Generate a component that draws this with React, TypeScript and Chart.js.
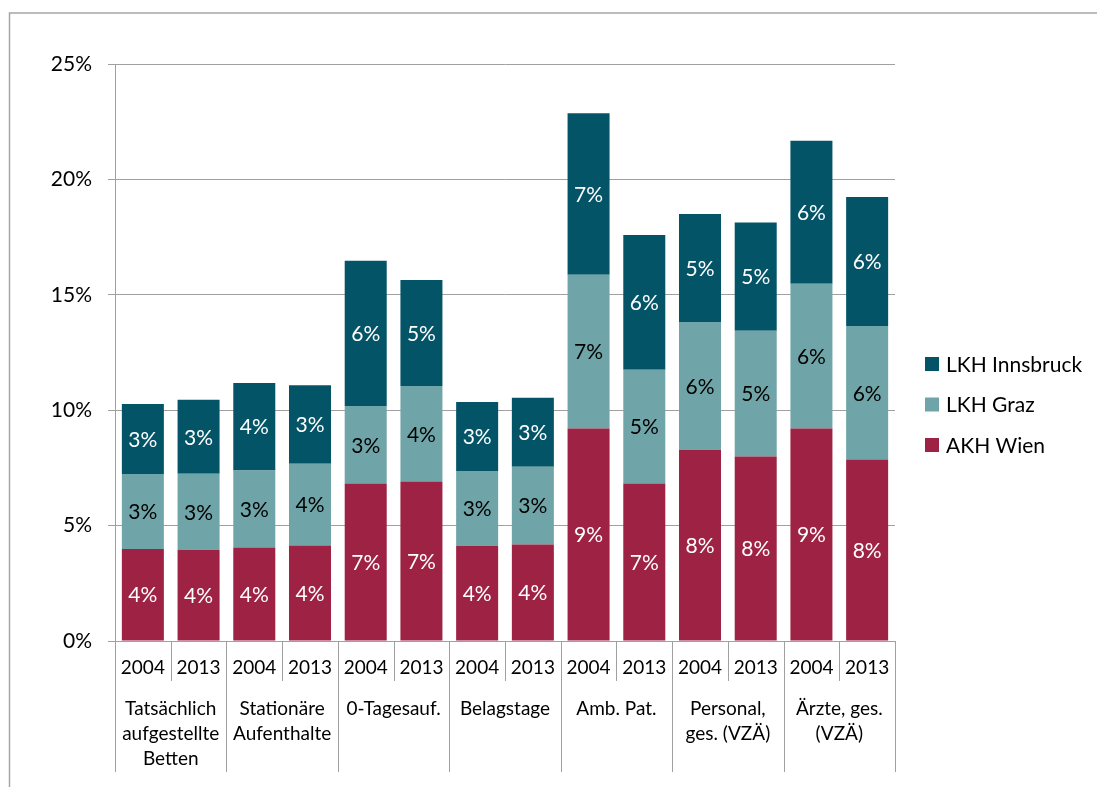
import React, { useEffect, useRef } from "react";
import { Chart, registerables } from "chart.js";

Chart.register(...registerables);

// ---- data ----
const groupLabels: string[][] = [
  ["Tatsächlich", "aufgestellte", "Betten"],
  ["Stationäre", "Aufenthalte"],
  ["0-Tagesauf."],
  ["Belagstage"],
  ["Amb. Pat."],
  ["Personal,", "ges. (VZÄ)"],
  ["Ärzte, ges.", "(VZÄ)"],
];
const years = ["2004", "2013"];
const categories = groupLabels.flatMap((g) => years.map((y) => `${g.join(" ")} ${y}`));
const yearLabels = groupLabels.flatMap(() => years);

const akhWien = [3.99, 3.94, 4.05, 4.14, 6.82, 6.91, 4.12, 4.18, 9.21, 6.82, 8.28, 7.99, 9.21, 7.86];
const lkhGraz = [3.25, 3.31, 3.34, 3.54, 3.36, 4.14, 3.25, 3.37, 6.66, 4.93, 5.54, 5.45, 6.27, 5.79];
const lkhInnsbruck = [3.03, 3.2, 3.79, 3.4, 6.3, 4.59, 2.99, 2.99, 7.0, 5.84, 4.68, 4.69, 6.2, 5.59];

const seriesNames = ["AKH Wien", "LKH Graz", "LKH Innsbruck"];
const yTickValues = [0, 5, 10, 15, 20, 25];

// ---- styles ----
const FONT = "Lato, 'Open Sans', sans-serif";
const COLORS = ["#9E2243", "#6FA5A8", "#045468"];
const LABEL_COLORS = ["#FFFFFF", "#000000", "#FFFFFF"];
const GRID = "#A0A0A0";

const overlay = {
  id: "overlay",
  afterDatasetsDraw(chart: any) {
    const ctx = chart.ctx;
    ctx.save();
    ctx.font = `21px ${FONT}`;
    ctx.textAlign = "center";
    ctx.textBaseline = "middle";
    chart.data.datasets.forEach((ds: any, di: number) => {
      const meta = chart.getDatasetMeta(di);
      meta.data.forEach((el: any, i: number) => {
        const v = ds.data[i];
        const p = el.getProps(["x", "y", "base"], true);
        ctx.fillStyle = LABEL_COLORS[di];
        ctx.fillText(Math.round(v) + "%", p.x, (p.y + p.base) / 2 + 1);
      });
    });
    ctx.restore();
  },
  afterDraw(chart: any) {
    const ctx = chart.ctx;
    const xs = chart.scales.x;
    const area = chart.chartArea;
    const n = categories.length;
    const px = (i: number) => xs.getPixelForValue(i);
    const half = (px(1) - px(0)) / 2;
    const bottom = area.bottom;
    ctx.save();
    // separators
    ctx.strokeStyle = GRID;
    ctx.lineWidth = 1;
    for (let i = 0; i <= n; i++) {
      const bx = Math.round(i < n ? px(i) - half : px(n - 1) + half) + 0.5;
      const long = i % 2 === 0;
      ctx.beginPath();
      ctx.moveTo(bx, bottom);
      ctx.lineTo(bx, bottom + (long ? 131 : 40));
      ctx.stroke();
    }
    // year labels
    ctx.fillStyle = "#000";
    ctx.textAlign = "center";
    ctx.textBaseline = "middle";
    ctx.font = `19px ${FONT}`;
    yearLabels.forEach((t, i) => ctx.fillText(t, px(i), bottom + 27));
    // group labels
    groupLabels.forEach((lines, g) => {
      const cx = (px(2 * g) + px(2 * g + 1)) / 2;
      lines.forEach((t, li) => ctx.fillText(t, cx, bottom + 68 + li * 25));
    });
    // legend
    ctx.textAlign = "left";
    ctx.font = `21px ${FONT}`;
    const legendOrder = [2, 1, 0];
    legendOrder.forEach((si, k) => {
      const cy = 364 + k * 40.5;
      ctx.fillStyle = COLORS[si];
      ctx.fillRect(925, cy - 7, 14, 14);
      ctx.fillStyle = "#000";
      ctx.fillText(seriesNames[si], 946, cy + 1);
    });
    // frame
    ctx.strokeStyle = "#A6A6A6";
    ctx.lineWidth = 1.5;
    ctx.beginPath();
    ctx.moveTo(9.5, chart.height);
    ctx.lineTo(9.5, 13);
    ctx.lineTo(chart.width, 13);
    ctx.stroke();
    ctx.restore();
  },
};

export default function App() {
  const ref = useRef<HTMLCanvasElement | null>(null);
  useEffect(() => {
    if (!ref.current) return;
    const values = [akhWien, lkhGraz, lkhInnsbruck];
    const chart = new Chart(ref.current, {
      type: "bar",
      data: {
        labels: categories,
        datasets: values.map((d, i) => ({
          label: seriesNames[i],
          data: d,
          backgroundColor: COLORS[i],
          borderWidth: 0,
          barPercentage: 0.754,
          categoryPercentage: 1,
        })),
      },
      options: {
        responsive: false,
        animation: false,
        layout: { padding: { left: 0, right: 202, top: 64, bottom: 146 } },
        plugins: { legend: { display: false }, tooltip: { enabled: false } },
        scales: {
          x: { stacked: true, display: false },
          y: {
            stacked: true,
            min: 0,
            max: 25,
            afterBuildTicks: (scale: any) => {
              scale.ticks = yTickValues.map((v) => ({ value: v }));
            },
            afterFit: (scale: any) => {
              scale.width = 115;
            },
            ticks: {
              callback: (v: any) => v + "%",
              color: "#000",
              font: { family: FONT, size: 21 },
              padding: 16,
            },
            grid: { color: GRID, lineWidth: 1, tickLength: 7, drawTicks: true },
            border: { color: GRID, width: 1 },
          },
        },
      },
      plugins: [overlay],
    });
    return () => chart.destroy();
  }, []);
  return (
    <div style={{ position: "fixed", left: 0, top: 0, width: 1097, height: 787, background: "#fff" }}>
      <canvas ref={ref} width={1097} height={787} style={{ display: "block" }} />
    </div>
  );
}
